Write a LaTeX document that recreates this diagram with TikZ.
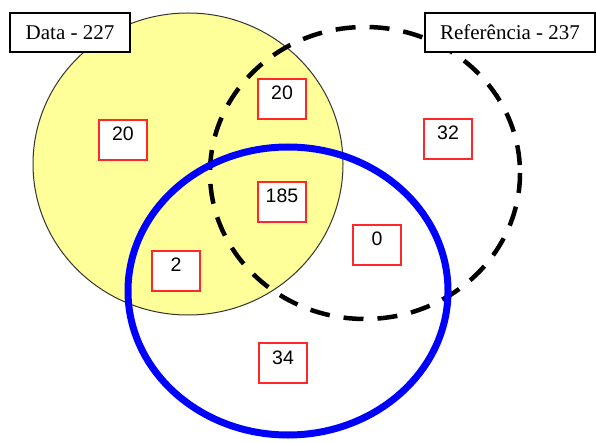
\documentclass[tikz,border=0pt]{standalone}
\usepackage{fontspec}
\setmainfont{Liberation Serif}
\newfontfamily\numfont{Liberation Sans}
\definecolor{vyellow}{RGB}{255,255,153}
\definecolor{vred}{RGB}{255,40,40}
\begin{document}
\begin{tikzpicture}[x=1pt,y=-1pt,
  setlabel/.style={draw=black,line width=1.2pt,fill=white,minimum width=#1,minimum height=39pt,inner sep=0pt,font=\fontsize{21}{24}\selectfont},
  numbox/.style={draw=vred,line width=1.5pt,fill=white,minimum width=48pt,text height=21pt,text depth=19pt,inner sep=0pt,font=\numfont\fontsize{19.5}{22}\selectfont}]
\useasboundingbox[fill=white] (0,0) rectangle (596,443);
% sets
\draw[fill=vyellow,draw=black!80,line width=1pt] (188,164) ellipse [x radius=155, y radius=151];
\draw[black,line width=4.5pt,dash pattern=on 20pt off 14pt] (365,173) ellipse [x radius=155, y radius=146];
\draw[blue,line width=7pt] (288,291) ellipse [x radius=160, y radius=144];
% set labels
\node[setlabel=120pt] (data) at (70,32.5) {Data - 227};
\node[setlabel=170pt] (ref) at (510,32.5) {Referência - 237};
% region counts
\node[numbox] (a) at (123,140) {20};
\node[numbox] (ab) at (282,99) {20};
\node[numbox] (abc) at (282,202) {185};
\node[numbox] (b) at (448,139) {32};
\node[numbox] (bc) at (377,245) {0};
\node[numbox] (ac) at (176,271) {2};
\node[numbox] (c) at (283,363) {34};
\end{tikzpicture}
\end{document}
